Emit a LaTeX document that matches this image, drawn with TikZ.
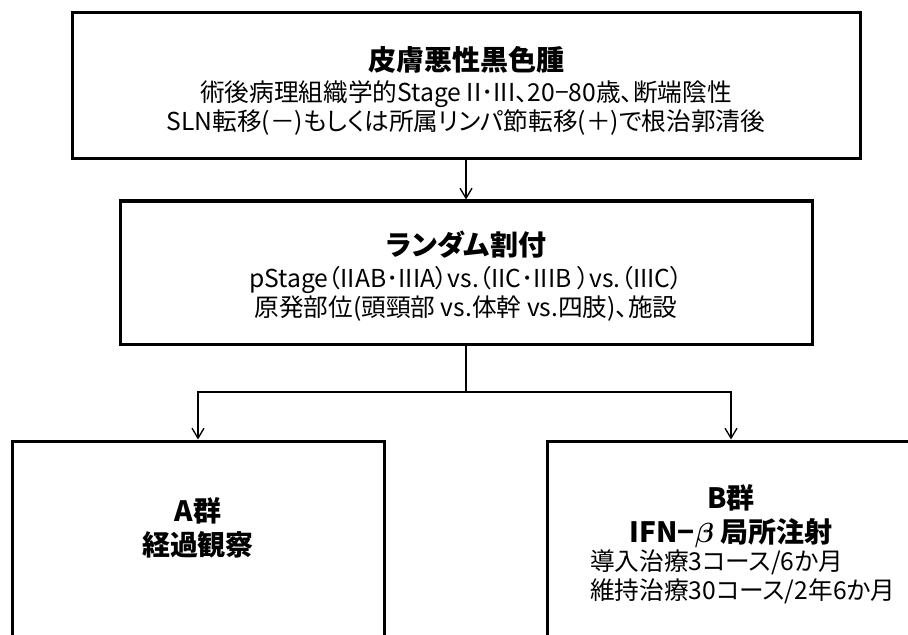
\documentclass[tikz,border=0pt]{standalone}
\usepackage{fontspec}
\setmainfont[RawFeature=+palt]{Noto Sans CJK JP}
\usepackage{bm}
\usetikzlibrary{arrows.meta}
\usetikzlibrary{positioning}
\newcommand\tightlines{\lineskiplimit=-20pt\relax}

\begin{document}
\begin{tikzpicture}[x=0.75pt, y=-0.75pt,
    box/.style={draw, line width=2.25pt, rectangle, inner sep=0pt},
    arr/.style={-{Straight Barb[length=7.5pt,width=9pt]}, line width=1pt},
    titletext/.style={font=\fontsize{21}{25.5}\selectfont\bfseries, inner sep=0pt, text height=18.5pt, text depth=2.5pt},
    bodytext/.style={font=\fontsize{18.5}{21.75}\selectfont\tightlines, align=center, inner sep=0pt}]
    \useasboundingbox (0,0) rectangle (908,635);
    \clip (0,0) rectangle (908,635);

    % Boxes
    \node[box, minimum width=591pt, minimum height=109.5pt] (top) at (466,86) {};
    \node[box, minimum width=519pt, minimum height=107.25pt] (rand) at (466,272.5) {};
    \node[box, minimum width=279pt, minimum height=179.25pt] (grpA) at (198,560.5) {};
    \node[box, minimum width=276pt, minimum height=179.25pt] (grpB) at (731,560.5) {};

    % Eligibility
    \node[titletext] (topT) at (466,60) {皮膚悪性黒色腫};
    \node[bodytext] (topB) at (466,108) {術後病理組織学的Stage II･III、20−80歳、断端陰性\\SLN転移(－)もしくは所属リンパ節転移(＋)で根治郭清後};

    % Randomisation
    \node[titletext] (randT) at (466,245) {ランダム割付};
    \node[bodytext] (randB) at (466,294) {pStage（IIAB･IIIA）vs.（IIC･IIIB ）vs.（IIIC）\\原発部位(頭頸部 vs.体幹 vs.四肢)、施設};

    % Arms
    \node[titletext] (grpAT) at (198,511) {A群};
    \node[titletext] (grpAS) at (198,545) {経過観察};
    \node[titletext] (grpBT) at (731,498) {B群};
    \node[titletext] (grpBS) at (731,532) {IFN−$\bm{\beta}$ 局所注射};
    \node[bodytext, align=left, anchor=west] (grpBB) at (590,577) {導入治療3コース/6か月\\維持治療30コース/2年6か月};

    \draw[arr] (top.south) -- (rand.north);
    \coordinate (split) at (466,392);
    \draw[line width=1pt] (rand.south) -- (split);
    \draw[arr] (split) -| (grpA.north);
    \draw[arr] (split) -| (grpB.north);
\end{tikzpicture}
\end{document}
